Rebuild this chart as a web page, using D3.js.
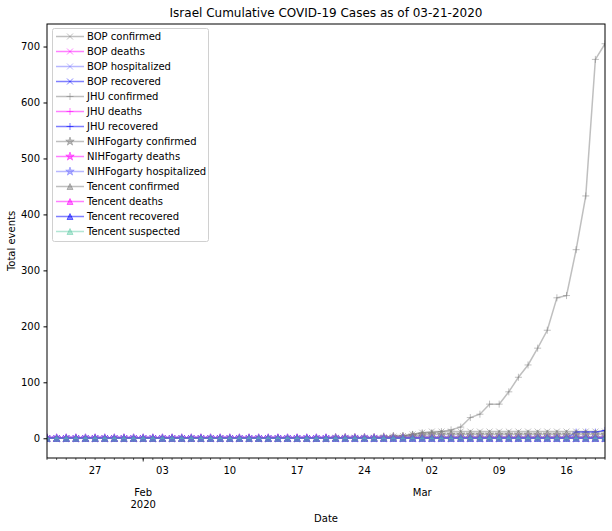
<!DOCTYPE html>
<html><head><meta charset="utf-8">
<script src="https://cdn.jsdelivr.net/npm/d3@7"></script>
<style>body{margin:0;background:#fff}svg{font-family:"DejaVu Sans",sans-serif}</style>
</head><body>
<svg id="c" width="612" height="531"></svg>
<script>
const startDate = "2020-01-22";
const endDate = "2020-03-20";
const Z30 = [0,0,0,0,0,0,0,0,0,0, 0,0,0,0,0,0,0,0,0,0, 0,0,0,0,0,0,0,0,0,0];
// values per day Jan 22 .. Mar 20 (59 days)
const bopConfirmed = Z30.concat([1,1,1,1,1,2,3,4,7, 10,12,12,12,12,12,12,12,12,12,12,12,12,12,12,12,12,12,12,12]);
const bopDeaths = Z30.concat([0,0,0,0,0,0,0,0,0, 0,0,0,0,0,0,0,0,0,0,0,0,0,0,0,0,0,0,0,0]);
const bopHospitalized = Z30.concat([0,0,0,0,0,0,0,0,0, 0,0,0,0,0,0,0,0,0,0,0,0,0,0,0,0,0,0,0,0]);
const bopRecovered = Z30.concat([0,0,0,0,0,0,0,0,0, 0,0,0,0,0,0,0,0,0,0,0,0,0,0,0,0,0,0,0,0]);
const jhuConfirmed = Z30.concat([1,1,1,1,1,2,3,4,7, 10,10,12,15,20,37,43,61,61,83,109,131,161,193,251,255,337,433,677,705]);
const jhuDeaths = Z30.concat([0,0,0,0,0,0,0,0,0, 0,0,0,0,0,0,0,0,0,0,0,0,0,0,0,0,0,0,0,0]);
const jhuRecovered = Z30.concat([0,0,0,0,0,0,0,0,0, 0,0,0,0,0,0,0,0,0,0,0,0,0,0,0,0,11,11,11,14]);
const nihConfirmed = Z30.concat([1,1,1,1,1,2,3,3,5, 6,7,7,7,7,7,7,7,7,7,7,7,7,7,7,7,7,7,7,7]);
const nihDeaths = Z30.concat([0,0,0,0,0,0,0,0,0, 0,0,0,0,0,0,0,0,0,0,0,0,0,0,0,0,0,0,0,0]);
const nihHospitalized = Z30.concat([0,0,0,0,0,0,0,0,0, 0,0,0,0,0,0,0,0,0,0,0,0,0,0,0,0,0,0,0,0]);
const tcConfirmed = Z30.concat([1,1,1,1,1,1,2,2,3, 3,3,3,3,3,3,3,3,3,3,3,3,3,3,3,3,3,3,3,3]);
const tcDeaths = Z30.concat([0,0,0,0,0,0,0,0,0, 0,0,0,0,0,0,0,0,0,0,0,0,0,0,0,0,0,0,0,0]);
const tcRecovered = Z30.concat([0,0,0,0,0,0,0,0,0, 0,0,0,0,0,0,0,0,0,0,0,0,0,0,0,0,0,0,0,0]);
const tcSuspected = Z30.concat([0,0,0,0,0,0,0,0,0, 0,0,0,0,0,0,0,0,0,0,0,0,0,0,0,0,0,0,0,0]);
const yTicks = [0,100,200,300,400,500,600,700];
const weekLabels = ["27","03","10","17","24","02","09","16"];
const monthLabels = [["Feb","2020"],["Mar"]];

const colors = {confirmed:"#808080", deaths:"#ff00ff", hospitalized:"#7070ff", recovered:"#0000ff", suspected:"#66cdaa"};
const series = [
  {name:"BOP confirmed", v:bopConfirmed, c:colors.confirmed, m:"x"},
  {name:"BOP deaths", v:bopDeaths, c:colors.deaths, m:"x"},
  {name:"BOP hospitalized", v:bopHospitalized, c:colors.hospitalized, m:"x"},
  {name:"BOP recovered", v:bopRecovered, c:colors.recovered, m:"x"},
  {name:"JHU confirmed", v:jhuConfirmed, c:colors.confirmed, m:"+"},
  {name:"JHU deaths", v:jhuDeaths, c:colors.deaths, m:"+"},
  {name:"JHU recovered", v:jhuRecovered, c:colors.recovered, m:"+"},
  {name:"NIHFogarty confirmed", v:nihConfirmed, c:colors.confirmed, m:"*"},
  {name:"NIHFogarty deaths", v:nihDeaths, c:colors.deaths, m:"*"},
  {name:"NIHFogarty hospitalized", v:nihHospitalized, c:colors.hospitalized, m:"*"},
  {name:"Tencent confirmed", v:tcConfirmed, c:colors.confirmed, m:"^"},
  {name:"Tencent deaths", v:tcDeaths, c:colors.deaths, m:"^"},
  {name:"Tencent recovered", v:tcRecovered, c:colors.recovered, m:"^"},
  {name:"Tencent suspected", v:tcSuspected, c:colors.suspected, m:"^"}
];

const parse = d3.utcParse("%Y-%m-%d");
const t0 = parse(startDate), t1 = parse(endDate);
const dates = d3.utcDay.range(t0, d3.utcDay.offset(t1,1));

const L=47, R=605, T=24, B=458;
const svg = d3.select("#c");
const x = d3.scaleUtc().domain([t0,t1]).range([L,R]);
const ymax = d3.max(series, s=>d3.max(s.v)), ymin = 0;
const pad = (ymax-ymin)*0.05;
const y = d3.scaleLinear().domain([ymin-pad, ymax+pad]).range([B,T]);

function markerPath(m){
  const r=3;
  if(m==="x") return `M${-r},${-r}L${r},${r}M${-r},${r}L${r},${-r}`;
  if(m==="+") return `M${-r-0.5},0L${r+0.5},0M0,${-r-0.5}L0,${r+0.5}`;
  if(m==="*") return d3.symbol(d3.symbolStar, 22)();
  return `M0,${-r}L${r},${r}L${-r},${r}Z`;
}
function drawMarker(g, m, c, px, py){
  const p = g.append("path").attr("d", markerPath(m)).attr("transform",`translate(${px},${py})`);
  if(m==="x"||m==="+") p.attr("fill","none").attr("stroke",c).attr("stroke-width",1).attr("stroke-opacity",0.5);
  else p.attr("fill",c).attr("fill-opacity",0.5).attr("stroke",c).attr("stroke-opacity",0.5).attr("stroke-width",1);
}

const plot = svg.append("g");
svg.append("defs").append("clipPath").attr("id","clip").append("rect").attr("x",L).attr("y",T).attr("width",R-L).attr("height",B-T);
plot.attr("clip-path","url(#clip)");
const line = d3.line().x((d,i)=>x(dates[i])).y(d=>y(d));
series.forEach(s=>{
  const g = plot.append("g");
  g.append("path").attr("d", line(s.v)).attr("fill","none").attr("stroke",s.c).attr("stroke-width",1.5).attr("stroke-opacity",0.5);
  s.v.forEach((v,i)=>drawMarker(g, s.m, s.c, x(dates[i]), y(v)));
});

// axes frame
svg.append("rect").attr("x",L).attr("y",T).attr("width",R-L).attr("height",B-T).attr("fill","none").attr("stroke","#000").attr("stroke-width",1);

// y axis
const yAxis = d3.axisLeft(y).tickValues(yTicks).tickSize(3.5).tickPadding(3.5);
const gy = svg.append("g").attr("transform",`translate(${L},0)`).call(yAxis);
gy.select(".domain").remove();
gy.selectAll("text").attr("font-size",10).attr("fill","#000").attr("font-family","DejaVu Sans");

// x axis: daily minor ticks, weekly labels, monthly major
const gx = svg.append("g").attr("transform",`translate(0,${B})`);
dates.forEach(d=>{
  gx.append("line").attr("x1",x(d)).attr("x2",x(d)).attr("y1",0).attr("y2",2).attr("stroke","#000").attr("stroke-width",0.6);
});
const mondays = d3.utcMonday.range(t0, d3.utcDay.offset(t1,1));
mondays.forEach((d,i)=>{
  gx.append("text").attr("x",x(d)).attr("y",16).attr("text-anchor","middle").attr("font-size",10).text(weekLabels[i]);
});
const months = d3.utcMonth.range(t0, d3.utcDay.offset(t1,1));
months.forEach((d,i)=>{
  gx.append("line").attr("x1",x(d)).attr("x2",x(d)).attr("y1",0).attr("y2",3.5).attr("stroke","#000").attr("stroke-width",0.8);
  const lab = monthLabels[i];
  lab.forEach((t,j)=>{
    gx.append("text").attr("x",x(d)).attr("y",38+j*12).attr("text-anchor","middle").attr("font-size",10).text(t);
  });
});

// labels
svg.append("text").attr("x",(L+R)/2).attr("y",17).attr("text-anchor","middle").attr("font-size",12).text("Israel Cumulative COVID-19 Cases as of 03-21-2020");
svg.append("text").attr("x",(L+R)/2).attr("y",522).attr("text-anchor","middle").attr("font-size",10).text("Date");
svg.append("text").attr("transform",`translate(15,${(T+B)/2}) rotate(-90)`).attr("text-anchor","middle").attr("font-size",10).text("Total events");

// legend
const lg = svg.append("g").attr("transform","translate(52,28)");
lg.append("rect").attr("x",0.5).attr("y",0.5).attr("width",156).attr("height",213).attr("rx",2).attr("fill","#fff").attr("fill-opacity",0.8).attr("stroke","#d0d0d0");
series.forEach((s,i)=>{
  const yy = 8.5 + i*15;
  const g = lg.append("g");
  g.append("line").attr("x1",4).attr("x2",32).attr("y1",yy).attr("y2",yy).attr("stroke",s.c).attr("stroke-width",1.5).attr("stroke-opacity",0.5);
  drawMarker(g, s.m, s.c, 18, yy);
  lg.append("text").attr("x",35).attr("y",yy+3.5).attr("font-size",10).text(s.name);
});
</script>
</body></html>
